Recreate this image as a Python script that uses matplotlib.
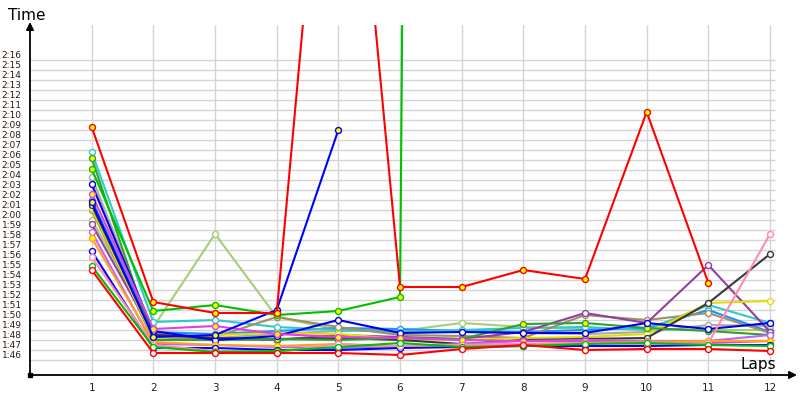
import numpy as np
import matplotlib
matplotlib.use("Agg")
import matplotlib.pyplot as plt
from matplotlib.transforms import ScaledTranslation

nan = np.nan

# lap numbers and lap times (seconds) per driver
laps = [1, 2, 3, 4, 5, 6, 7, 8, 9, 10, 11, 12]

light_green = [120.0, 109.3, 118.6, 110.3, 109.0, 108.9, 109.7, 109.3, 109.1, 109.1, 109.0, 109.0]
gray = [124.3, 108.8, 108.2, 108.6, 108.9, 109.0, 108.9, 108.7, 108.6, 108.8, 109.5, 109.4]
dodger = [122.0, 108.8, 108.6, 108.9, 109.2, 109.1, 108.9, 108.8, 109.0, 109.2, 111.0, 108.8]
cyan = [126.8, 109.8, 110.0, 109.3, 109.0, 108.8, 109.0, 109.2, 109.3, 109.0, 111.5, 109.7]
olive = [121.0, 108.0, 108.3, 110.3, 109.3, 108.5, 108.4, 108.2, 110.5, 110.0, 110.7, 108.7]
purple = [119.6, 108.6, 108.1, 108.0, 108.5, 108.3, 108.1, 108.8, 110.7, 109.7, 115.5, 108.8]
yellow = [121.2, 108.2, 108.5, 108.7, 108.6, 108.1, 108.0, 108.2, 108.3, 108.6, 111.7, 111.9]
dark_gray = [121.5, 108.5, 108.2, 108.1, 108.2, 108.0, 107.6, 108.0, 108.1, 108.2, 111.7, 116.6]
dark_green = [126.2, 108.0, 108.0, 108.1, 108.0, 108.2, 108.1, 109.6, 109.7, 109.2, 108.9, 108.5]
blue_b = [123.6, 108.9, 108.0, 108.4, 110.0, 108.7, 108.8, 108.7, 108.7, 109.7, 109.1, 109.7]
violet = [118.8, 107.6, 107.5, 107.3, 107.2, 107.4, 107.6, 107.9, 108.0, 107.9, 107.9, 108.5]
magenta = [122.6, 109.1, 109.4, 108.6, 108.3, 108.2, 108.0, 107.9, 107.9, 107.8, 107.7, 107.9]
orange = [118.2, 107.8, 107.5, 107.4, 107.6, 107.3, 107.5, 107.6, 107.7, 107.8, 107.9, 107.9]
blue_c = [116.9, 107.2, 107.2, 107.0, 107.0, 107.2, 107.3, 107.4, 107.4, 107.4, 107.5, 107.5]
pink = [116.3, 107.5, 106.9, 106.8, 107.6, 107.4, 107.5, 107.6, 107.7, 107.6, 107.7, 118.6]
green_b = [115.4, 107.3, 106.8, 106.9, 107.3, 107.7, 107.3, 107.4, 107.6, 107.7, 107.5, 107.4]
red_b = [115.0, 106.7, 106.7, 106.7, 106.7, 106.5, 107.1, 107.5, 107.0, 107.1, 107.1, 106.9]
blue_a = [121.8, 108.3, 108.5, 111.0, 129.0, nan, nan, nan, nan, nan, nan, nan]
green_a = [125.1, 110.9, 111.5, 110.5, 110.9, 112.3, 887.0, nan, nan, nan, nan, nan]
red_a = [129.3, 111.8, 110.7, 110.7, 178.6, 113.3, 113.3, 115.0, 114.1, 130.8, 113.7, nan]

drivers = [light_green, gray, dodger, cyan, olive, purple, yellow, dark_gray, dark_green,
           blue_b, violet, magenta, orange, blue_c, pink, green_b, red_b, blue_a, green_a, red_a]
colors = ["#a8cc78", "#a8a8a8", "#1e90ff", "#30c8c8", "#a09060", "#9040a0", "#e0e000", "#383838",
          "#30a030", "#0000e0", "#c060ff", "#e040e0", "#ffa020", "#0000ff", "#ff8cb0", "#00c000",
          "#ff0000", "#0000ff", "#00c000", "#ff0000"]
selected = [False, False, False, False, False, False, False, False, True,
            False, False, True, True, False, False, False, False, True, True, True]

fig = plt.figure(figsize=(8, 4), dpi=100)
ax = fig.add_axes([30 / 800, 25 / 400, 765 / 800, 350 / 400])
ax.set_xlim(0, 765 / 61.67)
ax.set_ylim(104.5, 139.5)
for s in ax.spines.values():
    s.set_visible(False)

secs = np.arange(106, 137)
ax.hlines(secs, 0, 745 / 61.67, color="#d4d4d4", lw=1, zorder=0)
ax.vlines(laps, 104.5, 139.5, color="#d4d4d4", lw=1, zorder=0)

for vals, c, sel in zip(drivers, colors, selected):
    ax.plot(laps, np.array(vals, dtype=float), color=c, lw=1.5, marker="o", ms=4.3,
            mfc="yellow" if sel else "white", mec=c, mew=1.0)

ax.annotate("", xy=(0, 139.8), xytext=(0, 104.5), annotation_clip=False,
            arrowprops=dict(arrowstyle="-|>", color="black", lw=1.3, mutation_scale=11, shrinkA=0, shrinkB=0))
ax.annotate("", xy=(767 / 61.67, 104.5), xytext=(0, 104.5), annotation_clip=False,
            arrowprops=dict(arrowstyle="-|>", color="black", lw=1.3, mutation_scale=11, shrinkA=0, shrinkB=0))
ax.plot(0, 104.5, "s", color="black", ms=3, clip_on=False, zorder=5)

ax.set_xticks(laps)
ax.set_xticklabels([str(l) for l in laps], fontsize=7.5, color="#202020")
ax.set_yticks(secs)
ax.set_yticklabels(["%d:%02d" % (s // 60, s % 60) for s in secs], fontsize=6.5, color="#2a1a10")
ax.tick_params(axis="x", length=0, pad=6)
ax.tick_params(axis="y", length=0, pad=6)
for lab in ax.get_yticklabels():
    lab.set_transform(lab.get_transform() + ScaledTranslation(0, 5 / 100, fig.dpi_scale_trans))

fig.text(8 / 800, 1 - 15 / 400, "Time", fontsize=11, va="center")
fig.text(741 / 800, 1 - 365 / 400, "Laps", fontsize=11, va="center")

fig.savefig("out.png", dpi=100)
